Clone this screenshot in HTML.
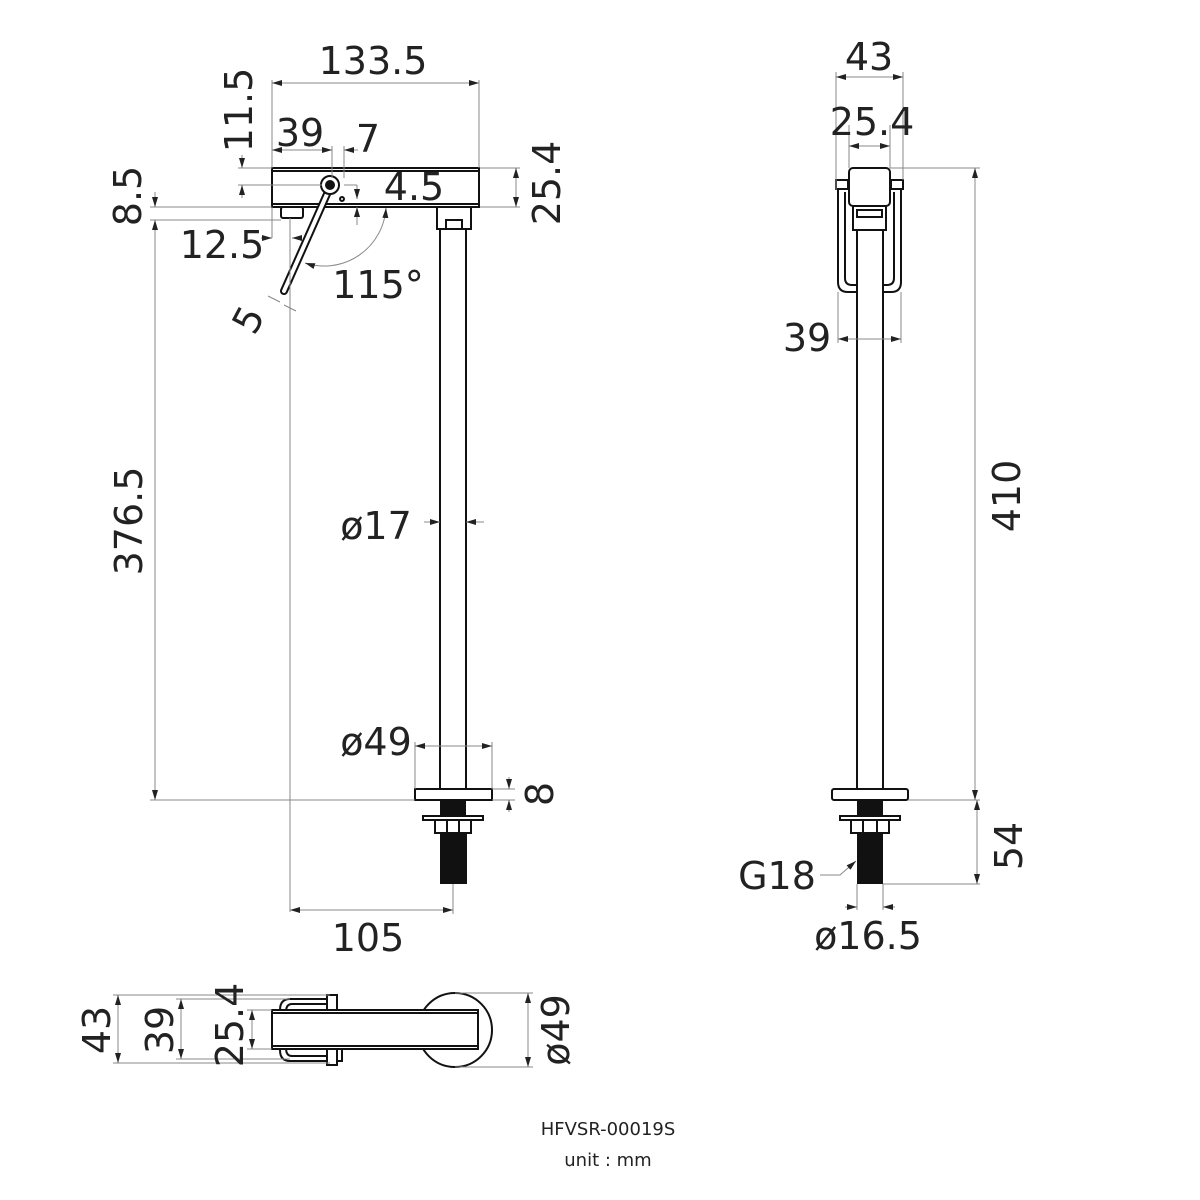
<!DOCTYPE html>
<html><head><meta charset="utf-8"><style>
html,body{margin:0;padding:0;background:#fff}
svg{display:block}
text{font-family:"DejaVu Sans","Liberation Sans",sans-serif;fill:#222}
.t{font-size:38px}
.d{stroke:#888;stroke-width:1;fill:none}
.o{stroke:#111;stroke-width:2;fill:none}
.w{stroke:#111;stroke-width:2;fill:#fff}
.k{fill:#111;stroke:#111}
</style></head><body>
<svg width="1200" height="1200" viewBox="0 0 1200 1200" xmlns="http://www.w3.org/2000/svg">
<defs>
<marker id="a" viewBox="0 0 10 6" refX="10" refY="3" markerWidth="10" markerHeight="6" orient="auto-start-reverse" markerUnits="userSpaceOnUse"><path d="M0,0 L10,3 L0,6z" fill="#222"/></marker>
</defs>

<!-- ===== LEFT VIEW ===== -->
<!-- body -->
<rect x="272" y="168" width="207" height="39" class="w"/>
<line x1="272" y1="171" x2="479" y2="171" class="o" stroke-width="1"/>
<line x1="272" y1="204" x2="479" y2="204" class="o" stroke-width="1"/>
<rect x="281" y="207" width="22" height="11" rx="2" class="w"/>
<rect x="437" y="207" width="34" height="22" class="w"/>
<rect x="446" y="220" width="16" height="9" class="w"/>
<!-- pipe -->
<rect x="440" y="229" width="26" height="560" class="w"/>
<!-- lever -->
<line x1="331" y1="185" x2="284" y2="291" stroke="#111" stroke-width="8" stroke-linecap="round"/>
<line x1="331" y1="185" x2="284" y2="291" stroke="#fff" stroke-width="4" stroke-linecap="round"/>
<circle cx="330" cy="185" r="9" class="w"/>
<circle cx="330" cy="185" r="5" fill="#111"/>
<circle cx="342" cy="199" r="2" class="o" stroke-width="1.2"/>
<!-- base -->
<rect x="415" y="789" width="77" height="11" class="w"/>
<rect x="440" y="800" width="26" height="18" fill="#111"/>
<rect x="423" y="816" width="60" height="4" class="w" stroke-width="1.5"/>
<rect x="435" y="820" width="36" height="13" class="w" stroke-width="1.5"/>
<line x1="447" y1="820" x2="447" y2="833" class="o" stroke-width="1"/>
<line x1="459" y1="820" x2="459" y2="833" class="o" stroke-width="1"/>
<rect x="440" y="833" width="27" height="51" fill="#111"/>

<!-- dims left -->
<line x1="272" y1="80" x2="272" y2="168" class="d"/>
<line x1="479" y1="80" x2="479" y2="168" class="d"/>
<line x1="272" y1="83" x2="479" y2="83" class="d" marker-start="url(#a)" marker-end="url(#a)"/>
<text x="373" y="74" class="t" text-anchor="middle">133.5</text>

<line x1="332" y1="146" x2="332" y2="178" class="d"/>
<line x1="344" y1="146" x2="344" y2="178" class="d"/>
<line x1="272" y1="150" x2="332" y2="150" class="d" marker-start="url(#a)" marker-end="url(#a)"/>
<line x1="344" y1="150" x2="358" y2="150" class="d" marker-start="url(#a)"/>
<text x="300" y="146" class="t" text-anchor="middle">39</text>
<text x="368" y="152" class="t" text-anchor="middle">7</text>

<line x1="238" y1="168" x2="272" y2="168" class="d"/>
<line x1="238" y1="185" x2="322" y2="185" class="d"/>
<line x1="242" y1="155" x2="242" y2="168" class="d" marker-end="url(#a)"/>
<line x1="242" y1="198" x2="242" y2="185" class="d" marker-end="url(#a)"/>
<text transform="translate(252,110) rotate(-90)" class="t" text-anchor="middle">11.5</text>

<line x1="480" y1="168" x2="520" y2="168" class="d"/>
<line x1="480" y1="207" x2="520" y2="207" class="d"/>
<line x1="516" y1="168" x2="516" y2="207" class="d" marker-start="url(#a)" marker-end="url(#a)"/>
<text transform="translate(560,183) rotate(-90)" class="t" text-anchor="middle">25.4</text>

<line x1="150" y1="207" x2="272" y2="207" class="d"/>
<line x1="150" y1="220" x2="281" y2="220" class="d"/>
<line x1="155" y1="192" x2="155" y2="207" class="d" marker-end="url(#a)"/>
<text transform="translate(141,196) rotate(-90)" class="t" text-anchor="middle">8.5</text>
<line x1="155" y1="220" x2="155" y2="800" class="d" marker-start="url(#a)" marker-end="url(#a)"/>
<line x1="150" y1="800" x2="415" y2="800" class="d"/>
<text transform="translate(142,521) rotate(-90)" class="t" text-anchor="middle">376.5</text>

<line x1="344" y1="185" x2="357" y2="185" class="d"/>
<line x1="357" y1="185" x2="357" y2="199" class="d" marker-end="url(#a)"/>
<line x1="354" y1="216" x2="357" y2="216" class="d"/>
<line x1="357" y1="225" x2="357" y2="207" class="d" marker-end="url(#a)"/>
<text x="414" y="200" class="t" text-anchor="middle">4.5</text>

<line x1="272" y1="207" x2="272" y2="238" class="d"/>
<line x1="261" y1="238" x2="272" y2="238" class="d" marker-end="url(#a)"/>
<line x1="302" y1="238" x2="292" y2="238" class="d" marker-end="url(#a)"/>
<text x="222" y="258" class="t" text-anchor="middle">12.5</text>
<line x1="290" y1="218" x2="290" y2="912" class="d"/>

<path d="M386,208 A62,62 0 0 1 305,263" class="d" marker-start="url(#a)" marker-end="url(#a)"/>
<text x="378" y="298" class="t" text-anchor="middle">115°</text>

<line x1="268" y1="296" x2="280" y2="302" class="d"/>
<line x1="284" y1="305" x2="296" y2="311" class="d"/>
<text transform="translate(260,326) rotate(-62)" class="t" text-anchor="middle">5</text>

<line x1="424" y1="522" x2="440" y2="522" class="d" marker-end="url(#a)"/>
<line x1="484" y1="522" x2="466" y2="522" class="d" marker-end="url(#a)"/>
<text x="376" y="539" class="t" text-anchor="middle">ø17</text>

<line x1="415" y1="742" x2="415" y2="789" class="d"/>
<line x1="492" y1="742" x2="492" y2="789" class="d"/>
<line x1="415" y1="746" x2="492" y2="746" class="d" marker-start="url(#a)" marker-end="url(#a)"/>
<text x="376" y="755" class="t" text-anchor="middle">ø49</text>

<line x1="492" y1="789" x2="515" y2="789" class="d"/>
<line x1="492" y1="800" x2="515" y2="800" class="d"/>
<line x1="509" y1="777" x2="509" y2="789" class="d" marker-end="url(#a)"/>
<line x1="509" y1="812" x2="509" y2="800" class="d" marker-end="url(#a)"/>
<text transform="translate(553,794) rotate(-90)" class="t" text-anchor="middle">8</text>

<line x1="453" y1="884" x2="453" y2="914" class="d"/>
<line x1="290" y1="910" x2="453" y2="910" class="d" marker-start="url(#a)" marker-end="url(#a)"/>
<text x="368" y="951" class="t" text-anchor="middle">105</text>

<!-- ===== RIGHT VIEW ===== -->
<path d="M838,190 L838,282 Q838,292 848,292 L891,292 Q901,292 901,282 L901,190" class="o"/>
<path d="M845,192 L845,278 Q845,285 852,285 L887,285 Q894,285 894,278 L894,192" class="o" stroke-width="1.5"/>
<rect x="836" y="180" width="12" height="9" class="w" stroke-width="1.5"/>
<rect x="891" y="180" width="12" height="9" class="w" stroke-width="1.5"/>
<rect x="849" y="168" width="41" height="38" rx="4" class="w"/>
<rect x="853" y="206" width="33" height="24" class="w" stroke-width="1.5"/>
<rect x="857" y="210" width="25" height="7" class="w" stroke-width="1.5"/>
<rect x="857" y="230" width="26" height="559" class="w"/>
<rect x="832" y="789" width="76" height="11" rx="2" class="w"/>
<rect x="857" y="800" width="26" height="18" fill="#111"/>
<rect x="840" y="816" width="60" height="4" class="w" stroke-width="1.5"/>
<rect x="851" y="820" width="38" height="13" class="w" stroke-width="1.5"/>
<line x1="863" y1="820" x2="863" y2="833" class="o" stroke-width="1"/>
<line x1="877" y1="820" x2="877" y2="833" class="o" stroke-width="1"/>
<rect x="857" y="833" width="26" height="51" fill="#111"/>

<line x1="836" y1="72" x2="836" y2="190" class="d"/>
<line x1="903" y1="72" x2="903" y2="180" class="d"/>
<line x1="836" y1="77" x2="903" y2="77" class="d" marker-start="url(#a)" marker-end="url(#a)"/>
<text x="869" y="70" class="t" text-anchor="middle">43</text>
<line x1="849" y1="125" x2="849" y2="168" class="d"/>
<line x1="890" y1="125" x2="890" y2="168" class="d"/>
<line x1="849" y1="146" x2="890" y2="146" class="d" marker-start="url(#a)" marker-end="url(#a)"/>
<text x="872" y="135" class="t" text-anchor="middle">25.4</text>
<line x1="838" y1="292" x2="838" y2="343" class="d"/>
<line x1="901" y1="292" x2="901" y2="343" class="d"/>
<line x1="838" y1="339" x2="901" y2="339" class="d" marker-start="url(#a)" marker-end="url(#a)"/>
<text x="807" y="351" class="t" text-anchor="middle">39</text>

<line x1="890" y1="168" x2="980" y2="168" class="d"/>
<line x1="908" y1="800" x2="980" y2="800" class="d"/>
<line x1="975" y1="168" x2="975" y2="800" class="d" marker-start="url(#a)" marker-end="url(#a)"/>
<text transform="translate(1020,496) rotate(-90)" class="t" text-anchor="middle">410</text>
<line x1="883" y1="884" x2="980" y2="884" class="d"/>
<line x1="977" y1="800" x2="977" y2="884" class="d" marker-start="url(#a)" marker-end="url(#a)"/>
<text transform="translate(1022,846) rotate(-90)" class="t" text-anchor="middle">54</text>

<polyline points="820,875 840,875 856,861" class="d" stroke="#222" marker-end="url(#a)"/>
<text x="777" y="889" class="t" text-anchor="middle">G18</text>
<line x1="857" y1="884" x2="857" y2="910" class="d"/>
<line x1="883" y1="884" x2="883" y2="910" class="d"/>
<line x1="845" y1="907" x2="857" y2="907" class="d" marker-end="url(#a)"/>
<line x1="895" y1="907" x2="883" y2="907" class="d" marker-end="url(#a)"/>
<text x="868" y="949" class="t" text-anchor="middle">ø16.5</text>

<!-- ===== BOTTOM VIEW ===== -->
<circle cx="455" cy="1030" r="37" class="w"/>
<path d="M330,999 L290,999 Q280,999 280,1010 L280,1050 Q280,1061 290,1061 L330,1061" class="o" stroke-width="1.5"/>
<path d="M330,1004 L292,1004 Q286,1004 286,1012 L286,1048 Q286,1056 292,1056 L330,1056" class="o" stroke-width="1.2"/>
<rect x="327" y="995" width="10" height="16" class="w" stroke-width="1.5"/>
<rect x="327" y="1049" width="10" height="16" class="w" stroke-width="1.5"/>
<rect x="337" y="1049" width="5" height="12" class="w" stroke-width="1.2"/>
<rect x="272" y="1010" width="206" height="39" class="w"/>
<line x1="272" y1="1013" x2="478" y2="1013" class="o" stroke-width="1"/>
<line x1="272" y1="1046" x2="478" y2="1046" class="o" stroke-width="1"/>

<line x1="113" y1="995" x2="330" y2="995" class="d"/>
<line x1="113" y1="1063" x2="330" y2="1063" class="d"/>
<line x1="118" y1="995" x2="118" y2="1063" class="d" marker-start="url(#a)" marker-end="url(#a)"/>
<text transform="translate(110,1030) rotate(-90)" class="t" text-anchor="middle">43</text>
<line x1="176" y1="999" x2="290" y2="999" class="d"/>
<line x1="176" y1="1059" x2="290" y2="1059" class="d"/>
<line x1="181" y1="999" x2="181" y2="1059" class="d" marker-start="url(#a)" marker-end="url(#a)"/>
<text transform="translate(173,1030) rotate(-90)" class="t" text-anchor="middle">39</text>
<line x1="247" y1="1010" x2="272" y2="1010" class="d"/>
<line x1="247" y1="1049" x2="272" y2="1049" class="d"/>
<line x1="252" y1="1010" x2="252" y2="1049" class="d" marker-start="url(#a)" marker-end="url(#a)"/>
<text transform="translate(243,1025) rotate(-90)" class="t" text-anchor="middle">25.4</text>
<line x1="455" y1="993" x2="533" y2="993" class="d"/>
<line x1="455" y1="1067" x2="533" y2="1067" class="d"/>
<line x1="528" y1="993" x2="528" y2="1067" class="d" marker-start="url(#a)" marker-end="url(#a)"/>
<text transform="translate(569,1030) rotate(-90)" class="t" text-anchor="middle">ø49</text>

<text x="608" y="1135" font-size="18" text-anchor="middle">HFVSR-00019S</text>
<text x="608" y="1166" font-size="18" text-anchor="middle">unit : mm</text>
</svg>
</body></html>
